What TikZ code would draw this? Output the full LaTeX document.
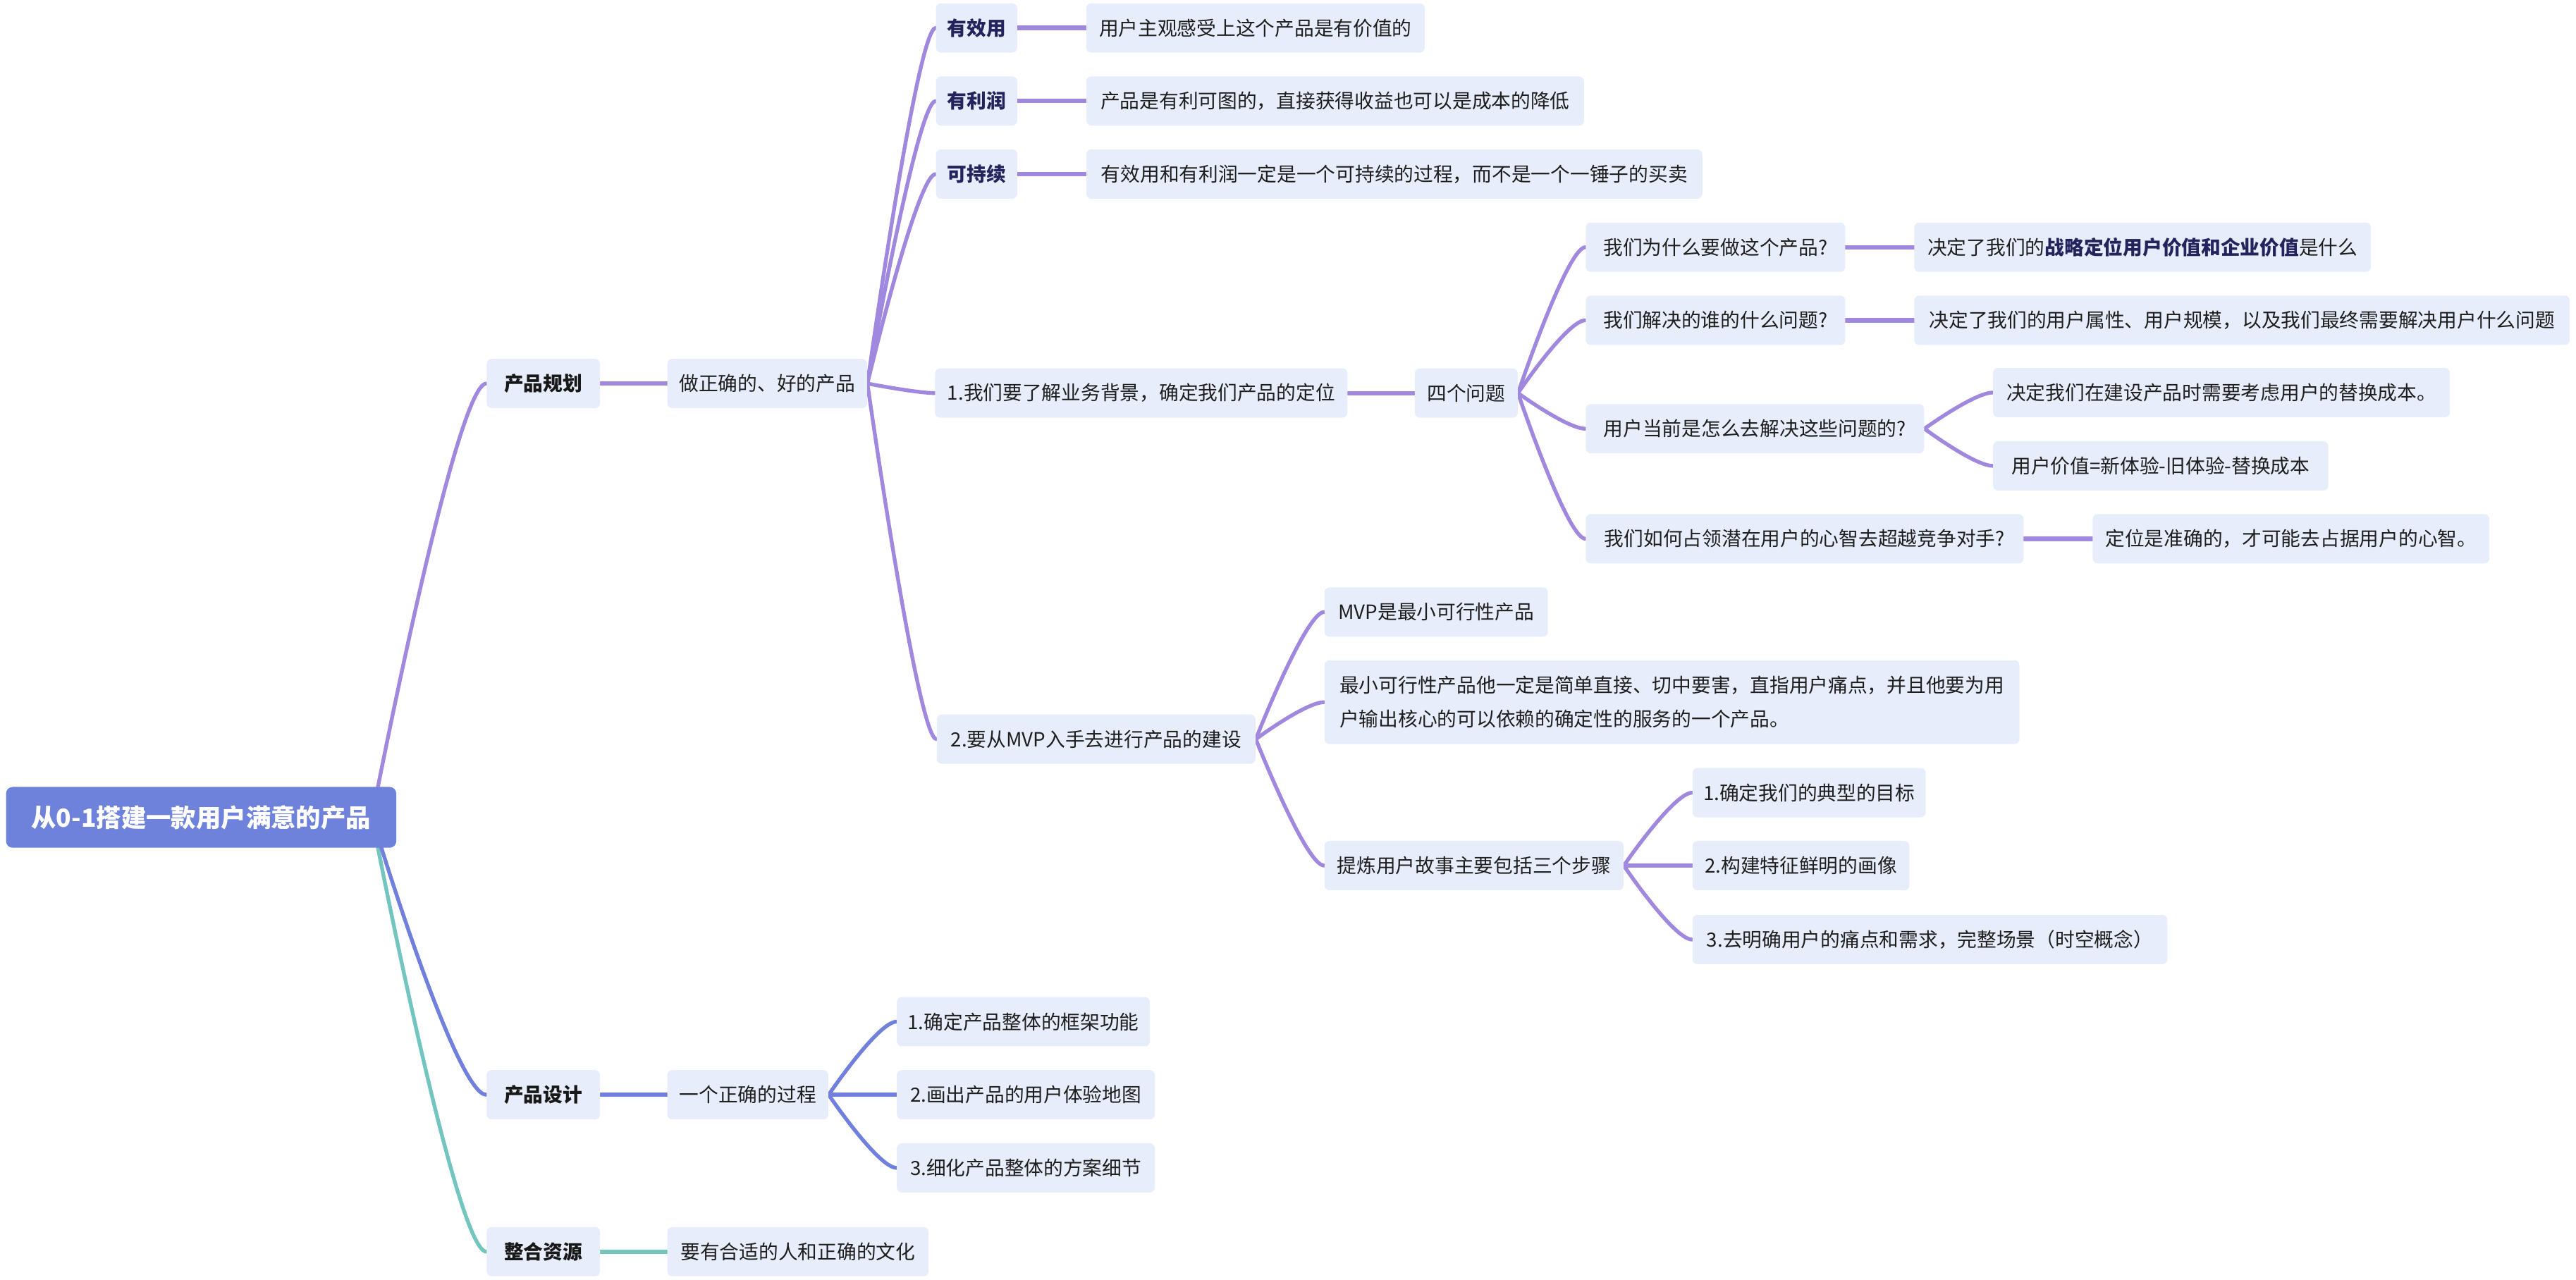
\documentclass[tikz,border=0pt]{standalone}
\usepackage{fontspec}
\setmainfont{Noto Sans CJK SC}
\usetikzlibrary{calc}
\pgfdeclarelayer{bg}
\pgfsetlayers{bg,main}
\definecolor{cpur}{RGB}{160,136,223}
\definecolor{cblu}{RGB}{112,128,220}
\definecolor{ctea}{RGB}{115,198,192}
\definecolor{croot}{RGB}{111,130,219}
\definecolor{cfill}{RGB}{232,237,251}
\definecolor{ctxt}{RGB}{30,30,30}
\definecolor{cnavy}{RGB}{36,36,92}
\definecolor{cblack}{RGB}{24,24,24}
\begin{document}
\begin{tikzpicture}[x=1pt,y=-1pt,
  box/.style={anchor=west, fill=cfill, rounded corners=3pt, inner xsep=0pt, inner ysep=0pt,
    minimum height=30pt, text=ctxt, font=\fontsize{11.9}{14}\selectfont},
  lvone/.style={box, text=cblack, font=\fontsize{11.9}{14}\selectfont\bfseries},
  navy/.style={box, text=cnavy, font=\fontsize{11.9}{14}\selectfont\bfseries},
  rootbox/.style={anchor=west, fill=croot, rounded corners=4pt, inner sep=0pt,
    minimum height=37pt, minimum width=237.5pt, text=white, font=\fontsize{15.2}{18}\selectfont\bfseries},
  curv/.style={to path={.. controls (\tikztostart) and ($(\tikztotarget -| \tikztostart)!0.73!(\tikztotarget)$) .. (\tikztotarget)}},
  lk/.style={line width=2.3pt, line cap=round},
  lks/.style={line width=2.7pt, line cap=round},
]
\useasboundingbox (0,0) rectangle (1568,779);

% root
\node[rootbox] (root) at (3.5,497.6) {从0-1搭建一款用户满意的产品};
\coordinate (rs) at ([xshift=-15pt]root.east);

% level 1
\node[lvone, minimum width=69pt] (n1) at (296,233.5) {产品规划};
\node[lvone, minimum width=69pt] (n2) at (296,666.5) {产品设计};
\node[lvone, minimum width=69pt] (n3) at (296,762) {整合资源};

% level 2
\node[box, minimum width=121.6pt] (a) at (406,233.5) {做正确的、好的产品};
\node[box, minimum width=98pt] (b) at (406,666.5) {一个正确的过程};
\node[box, minimum width=159pt] (c) at (406,762) {要有合适的人和正确的文化};

% level 3 (planning)
\node[navy, minimum width=49.5pt] (a1) at (569.5,17) {有效用};
\node[navy, minimum width=49.5pt] (a2) at (569.5,61.5) {有利润};
\node[navy, minimum width=49.5pt] (a3) at (569.5,106) {可持续};
\node[box, minimum width=251pt] (a4) at (569,239.3) {1.我们要了解业务背景，确定我们产品的定位};
\node[box, minimum width=194pt] (a5) at (570,450) {2.要从MVP入手去进行产品的建设};

% level 3 (design)
\node[box, minimum width=154pt] (b1) at (545.7,622) {1.确定产品整体的框架功能};
\node[box, minimum width=157pt] (b2) at (545.7,666.5) {2.画出产品的用户体验地图};
\node[box, minimum width=157pt] (b3) at (545.7,711) {3.细化产品整体的方案细节};

% level 4
\node[box, minimum width=206pt] (a1x) at (661,17) {用户主观感受上这个产品是有价值的};
\node[box, minimum width=303pt] (a2x) at (661,61.5) {产品是有利可图的，直接获得收益也可以是成本的降低};
\node[box, minimum width=375pt] (a3x) at (661,106) {有效用和有利润一定是一个可持续的过程，而不是一个一锤子的买卖};
\node[box, minimum width=62.6pt] (a4x) at (861,239.3) {四个问题};

% four questions
\node[box, minimum width=158pt] (q1) at (965,150.5) {我们为什么要做这个产品?};
\node[box, minimum width=158pt] (q2) at (965,195) {我们解决的谁的什么问题?};
\node[box, minimum width=206pt] (q3) at (965,261) {用户当前是怎么去解决这些问题的?};
\node[box, minimum width=266.5pt] (q4) at (965,328) {我们如何占领潜在用户的心智去超越竞争对手?};

\node[box, minimum width=278pt] (r1) at (1165,150.5) {决定了我们的{\bfseries\color{cnavy}战略定位用户价值和企业价值}是什么};
\node[box, minimum width=399pt] (r2) at (1165,195) {决定了我们的用户属性、用户规模，以及我们最终需要解决用户什么问题};
\node[box, minimum width=278pt] (r3a) at (1213,239) {决定我们在建设产品时需要考虑用户的替换成本。};
\node[box, minimum width=204pt] (r3b) at (1213,283.6) {用户价值=新体验-旧体验-替换成本};
\node[box, minimum width=241.5pt] (r4) at (1273.6,328) {定位是准确的，才可能去占据用户的心智。};

% MVP
\node[box, minimum width=136pt] (m1) at (806,372.6) {MVP是最小可行性产品};
\node[box, minimum width=423pt, minimum height=51pt, align=left, font=\fontsize{11.9}{20.6}\selectfont] (m2) at (806,427.5)
  {最小可行性产品他一定是简单直接、切中要害，直指用户痛点，并且他要为用\\户输出核心的可以依赖的确定性的服务的一个产品。};
\node[box, minimum width=182pt] (m3) at (806,527) {提炼用户故事主要包括三个步骤};

\node[box, minimum width=142pt] (s1) at (1030,482.6) {1.确定我们的典型的目标};
\node[box, minimum width=132pt] (s2) at (1030,527) {2.构建特征鲜明的画像};
\node[box, minimum width=289pt] (s3) at (1030,572) {3.去明确用户的痛点和需求，完整场景（时空概念）};

\begin{pgfonlayer}{bg}
  % root branches
  \draw[lk, cpur] (rs) to[curv] (n1.west);
  \draw[lk, ctea] (rs) to[curv] (n3.west);
  \draw[lk, cblu] (rs) to[curv] (n2.west);
  \draw[lks, cpur] (n1.east) -- (a.west);
  \draw[lks, cblu] (n2.east) -- (b.west);
  \draw[lks, ctea] (n3.east) -- (c.west);
  % planning
  \draw[lk, cpur] (a.east) to[curv] (a1.west);
  \draw[lk, cpur] (a.east) to[curv] (a2.west);
  \draw[lk, cpur] (a.east) to[curv] (a3.west);
  \draw[lk, cpur] (a.east) to[curv] (a4.west);
  \draw[lk, cpur] (a.east) to[curv] (a5.west);
  \draw[lks, cpur] (a1.east) -- (a1x.west);
  \draw[lks, cpur] (a2.east) -- (a2x.west);
  \draw[lks, cpur] (a3.east) -- (a3x.west);
  \draw[lks, cpur] (a4.east) -- (a4x.west);
  \draw[lk, cpur] (a4x.east) to[curv] (q1.west);
  \draw[lk, cpur] (a4x.east) to[curv] (q2.west);
  \draw[lk, cpur] (a4x.east) to[curv] (q3.west);
  \draw[lk, cpur] (a4x.east) to[curv] (q4.west);
  \draw[lks, cpur] (q1.east) -- (r1.west);
  \draw[lks, cpur] (q2.east) -- (r2.west);
  \draw[lk, cpur] (q3.east) to[curv] (r3a.west);
  \draw[lk, cpur] (q3.east) to[curv] (r3b.west);
  \draw[lks, cpur] (q4.east) -- (r4.west);
  \draw[lk, cpur] (a5.east) to[curv] (m1.west);
  \draw[lk, cpur] (a5.east) to[curv] (m2.west);
  \draw[lk, cpur] (a5.east) to[curv] (m3.west);
  \draw[lk, cpur] (m3.east) to[curv] (s1.west);
  \draw[lks, cpur] (m3.east) -- (s2.west);
  \draw[lk, cpur] (m3.east) to[curv] (s3.west);
  % design
  \draw[lk, cblu] (b.east) to[curv] (b1.west);
  \draw[lks, cblu] (b.east) -- (b2.west);
  \draw[lk, cblu] (b.east) to[curv] (b3.west);
\end{pgfonlayer}
\end{tikzpicture}
\end{document}
